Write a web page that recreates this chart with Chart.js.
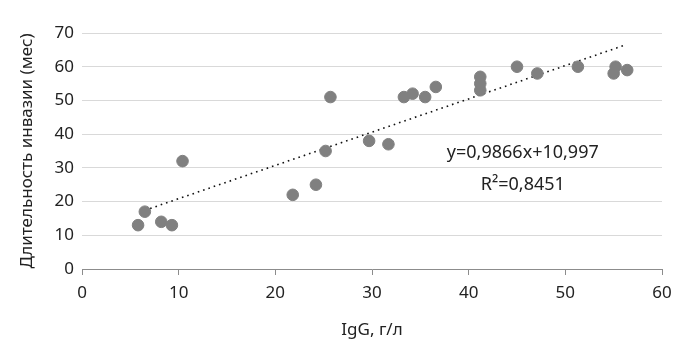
<!DOCTYPE html>
<html>
<head>
<meta charset="utf-8">
<script src="https://cdn.jsdelivr.net/npm/chart.js@4"></script>
<style>
html,body{margin:0;padding:0;background:#fff;}
#wrap{width:689px;height:360px;}
</style>
</head>
<body>
<div id="wrap"><canvas id="c" width="689" height="360"></canvas></div>
<script>
const xValues = [5.8, 6.5, 8.2, 9.3, 10.4, 21.8, 24.2, 25.2, 25.7, 29.7, 31.7, 33.3, 34.2, 35.5, 36.6, 41.2, 41.2, 41.2, 45.0, 47.1, 51.3, 55.0, 55.2, 56.4];
const yValues = [13, 17, 14, 13, 32, 22, 25, 35, 51, 38, 37, 51, 52, 51, 54, 57, 55, 53, 60, 58, 60, 58, 60, 59];
const trendSlope = 0.9866;
const trendIntercept = 10.997;
const trendRange = [6.5, 56];
const xTicks = [0, 10, 20, 30, 40, 50, 60];
const yTicks = [0, 10, 20, 30, 40, 50, 60, 70];
const eqLabel = "y=0,9866x+10,997";
const r2Label = "R²=0,8451";
const xTitle = "IgG, г/л";
const yTitle = "Длительность инвазии (мес)";

const points = xValues.map((x, i) => ({x: x, y: yValues[i]}));
const trend = trendRange.map(x => ({x: x, y: trendSlope * x + trendIntercept}));

const FONT = "'Noto Sans', sans-serif";

const textPlugin = {
  id: 'eqText',
  afterDatasetsDraw(chart) {
    const ctx = chart.ctx;
    const xs = chart.scales.x, ys = chart.scales.y;
    ctx.save();
    ctx.fillStyle = '#222';
    ctx.font = "18px " + FONT;
    ctx.textAlign = 'center';
    ctx.textBaseline = 'middle';
    ctx.fillText(eqLabel, xs.getPixelForValue(45.6), ys.getPixelForValue(34.4));
    ctx.fillText(r2Label, xs.getPixelForValue(45.6), ys.getPixelForValue(25));
    ctx.restore();
  }
};

new Chart(document.getElementById('c'), {
  type: 'scatter',
  data: {
    datasets: [
      {
        data: points,
        backgroundColor: '#808080',
        borderColor: '#808080',
        pointRadius: 5.8,
        pointHoverRadius: 5.8,
        order: 1
      },
      {
        type: 'line',
        data: trend,
        borderColor: '#111',
        borderWidth: 1.6,
        borderDash: [1.6, 4],
        pointRadius: 0,
        fill: false,
        order: 2
      }
    ]
  },
  options: {
    responsive: false,
    animation: false,
    devicePixelRatio: 1,
    layout: {padding: {top: 33, right: 27, left: 0, bottom: 0}},
    plugins: {legend: {display: false}, tooltip: {enabled: false}},
    scales: {
      x: {
        type: 'linear',
        min: 0, max: 60,
        afterBuildTicks: s => { s.ticks = xTicks.map(v => ({value: v})); },
        afterFit: s => { s.height = 91; },
        border: {display: true, color: '#8c8c8c', width: 1},
        grid: {display: true, drawOnChartArea: false, drawTicks: true, tickLength: 6, color: '#8c8c8c'},
        ticks: {color: '#222', font: {family: FONT, size: 17}, padding: 8, maxRotation: 0},
        title: {display: true, text: xTitle, color: '#222', font: {family: FONT, size: 17}, padding: {top: 10, bottom: 20}}
      },
      y: {
        type: 'linear',
        min: 0, max: 70,
        afterBuildTicks: s => { s.ticks = yTicks.map(v => ({value: v})); },
        afterFit: s => { s.width = 82; },
        border: {display: false},
        grid: {color: '#d9d9d9', lineWidth: 1, drawTicks: false},
        ticks: {color: '#222', font: {family: FONT, size: 17}, padding: 8},
        title: {display: true, text: yTitle, color: '#222', font: {family: FONT, size: 17}, padding: {top: 17, bottom: 0}}
      }
    }
  },
  plugins: [textPlugin]
});
</script>
</body>
</html>
